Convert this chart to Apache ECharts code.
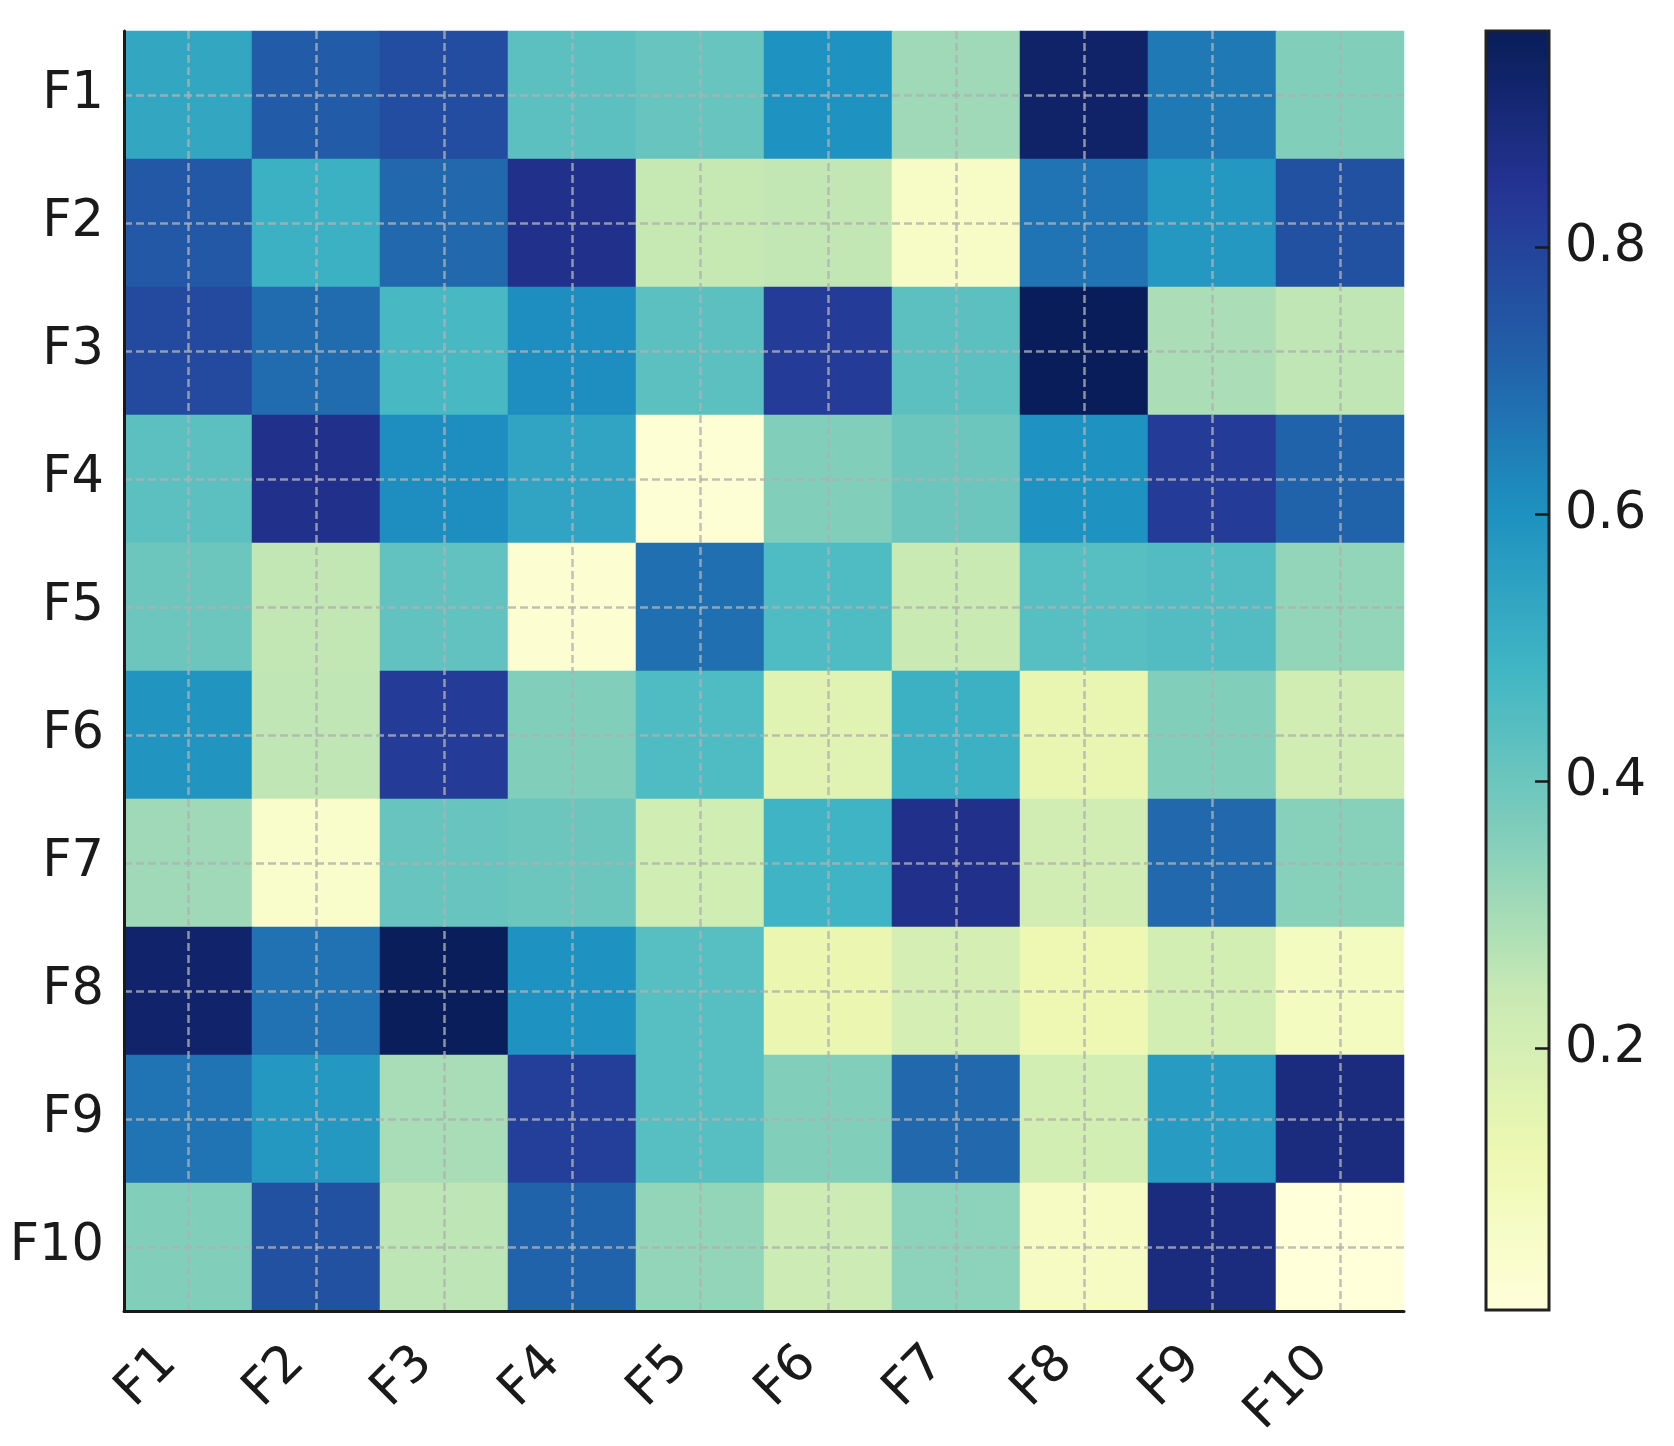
<!DOCTYPE html>
<html>
<head>
<meta charset="utf-8">
<script src="https://cdn.jsdelivr.net/npm/echarts@6/dist/echarts.min.js"></script>
<style>
  html, body { margin: 0; padding: 0; background: #fff; }
  #chart { width: 1674px; height: 1446px; }
</style>
</head>
<body>
<div id="chart"></div>
<script>
// feature names (rows top->bottom, columns left->right)
const features = ['F1', 'F2', 'F3', 'F4', 'F5', 'F6', 'F7', 'F8', 'F9', 'F10'];

// one array per row
const rowF1  = [0.53, 0.73, 0.77, 0.43, 0.41, 0.60, 0.31, 0.93, 0.66, 0.36];
const rowF2  = [0.74, 0.50, 0.70, 0.86, 0.245, 0.25, 0.06, 0.67, 0.58, 0.76];
const rowF3  = [0.78, 0.69, 0.47, 0.61, 0.43, 0.82, 0.43, 0.96, 0.29, 0.255];
const rowF4  = [0.43, 0.86, 0.61, 0.54, 0.02, 0.36, 0.40, 0.60, 0.82, 0.71];
const rowF5  = [0.40, 0.25, 0.42, 0.025, 0.68, 0.455, 0.235, 0.44, 0.45, 0.33];
const rowF6  = [0.59, 0.255, 0.82, 0.36, 0.455, 0.16, 0.50, 0.14, 0.36, 0.21];
const rowF7  = [0.31, 0.045, 0.41, 0.40, 0.215, 0.49, 0.86, 0.21, 0.70, 0.35];
const rowF8  = [0.925, 0.675, 0.958, 0.60, 0.44, 0.13, 0.20, 0.12, 0.205, 0.08];
const rowF9  = [0.67, 0.58, 0.295, 0.81, 0.44, 0.36, 0.70, 0.205, 0.57, 0.885];
const rowF10 = [0.36, 0.76, 0.26, 0.71, 0.33, 0.225, 0.34, 0.07, 0.885, 0.005];

const rows = [rowF1, rowF2, rowF3, rowF4, rowF5, rowF6, rowF7, rowF8, rowF9, rowF10];

// colour bar
const cbMin = 0.004;
const cbMax = 0.962;
const cbTicks = [0.2, 0.4, 0.6, 0.8];
const ylgnbu = ['#ffffd9', '#edf8b1', '#c7e9b4', '#7fcdbb', '#41b6c4',
                '#1d91c0', '#225ea8', '#253494', '#081d58'];

const cells = [];
rows.forEach((row, r) => {
  row.forEach((v, c) => cells.push([c, r, v]));
});

const font = 'DejaVu Sans';
const ink = '#1a1a1a';

const chart = echarts.init(document.getElementById('chart'), null, { renderer: 'canvas' });

chart.setOption({
  backgroundColor: '#fff',
  animation: false,
  grid: [
    { left: 124, top: 31, width: 1280, height: 1280, containLabel: false },
    { left: 1486, top: 31, width: 63, height: 1279, show: true, z: 10,
      backgroundColor: 'transparent', borderColor: '#222', borderWidth: 3 }
  ],
  xAxis: [
    {
      type: 'category', data: features, gridIndex: 0, z: 10,
      axisLine: { lineStyle: { color: ink, width: 3 } },
      axisTick: { inside: true, alignWithLabel: true, length: 14, lineStyle: { color: ink, width: 2.5 } },
      axisLabel: { rotate: 45, fontSize: 51, fontFamily: font, color: ink, margin: 25,
                   padding: [0, 27, 0, 0] },
      splitLine: { show: false }
    },
    { type: 'value', gridIndex: 1, show: false, min: 0, max: 1 }
  ],
  yAxis: [
    {
      type: 'category', data: features, gridIndex: 0, inverse: true, z: 10,
      axisLine: { lineStyle: { color: ink, width: 3 } },
      axisTick: { inside: true, alignWithLabel: true, length: 14, lineStyle: { color: ink, width: 2.5 } },
      axisLabel: { fontSize: 51, fontFamily: font, color: ink, margin: 20, padding: [6, 0, 0, 0] },
      splitLine: { show: false }
    },
    {
      type: 'value', gridIndex: 1, position: 'right', min: cbMin, max: cbMax, z: 10,
      axisLine: { show: false, onZero: false },
      axisTick: { show: true, inside: true, length: 14, customValues: cbTicks,
                  lineStyle: { color: ink, width: 2.5 } },
      axisLabel: { customValues: cbTicks, fontSize: 51, fontFamily: font, color: ink, margin: 16,
                   padding: [4, 0, 0, 0], formatter: v => v.toFixed(1) },
      splitLine: { show: false }
    }
  ],
  visualMap: {
    type: 'continuous',
    min: cbMin, max: cbMax,
    seriesIndex: 0,
    dimension: 2,
    calculable: false,
    hoverLink: false,
    left: 1486, top: 31,
    itemWidth: 63, itemHeight: 1279,
    padding: 0,
    text: null,
    inRange: { color: ylgnbu }
  },
  series: [{
    type: 'heatmap',
    xAxisIndex: 0, yAxisIndex: 0,
    data: cells,
    itemStyle: { borderWidth: 0 },
    emphasis: { disabled: true },
    markLine: {
      silent: true,
      symbol: 'none',
      label: { show: false },
      lineStyle: { type: [8, 4], color: 'rgba(176,176,176,0.8)', width: 2.5 },
      data: features.map(f => ({ xAxis: f })).concat(features.map(f => ({ yAxis: f })))
    }
  }]
});
</script>
</body>
</html>
